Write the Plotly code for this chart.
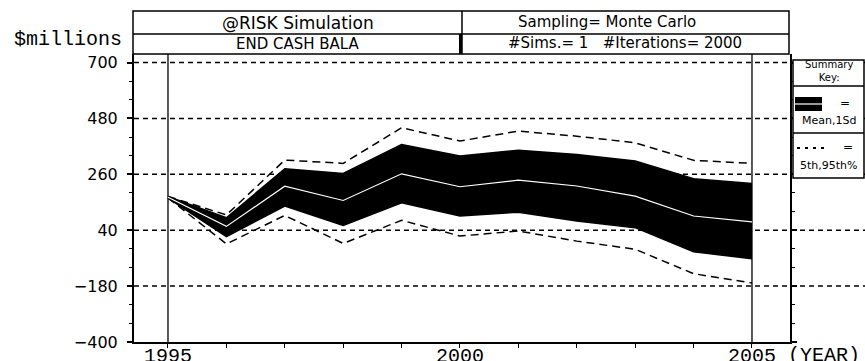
import plotly.graph_objects as go

# ---------------- data ----------------
years = [1995, 1996, 1997, 1998, 1999, 2000, 2001, 2002, 2003, 2004, 2005]
mean_vals = [170, 55, 213, 157, 262, 211, 237, 214, 174, 96, 73]
plus_1sd = [173, 89, 282, 263, 377, 332, 355, 338, 312, 243, 224]
minus_1sd = [166, 15, 135, 59, 148, 96, 111, 76, 50, -45, -72]
pct_95 = [173, 100, 316, 303, 443, 391, 430, 410, 384, 315, 303]
pct_5 = [167, -14, 98, -12, 79, 17, 37, -3, -35, -131, -168]

y_ticks = [-400, -180, 40, 260, 480, 700]
x_tick_labels = ["1995", "", "", "", "", "2000", "", "", "", "", "2005"]

# ---------------- layout helpers (pixel -> paper) ----------------
W, H = 865, 361
L, R, T, B = 134, 790, 54, 342


def px(x):
    return (x - L) / (R - L)


def py(y):
    return (B - y) / (B - T)


fig = go.Figure()

# 5th / 95th percentile dashed lines
fig.add_trace(go.Scatter(x=years, y=pct_95, mode="lines",
                         line=dict(color="black", width=1.5, dash="8px,5px"),
                         showlegend=False, hoverinfo="skip"))
fig.add_trace(go.Scatter(x=years, y=pct_5, mode="lines",
                         line=dict(color="black", width=1.5, dash="8px,5px"),
                         showlegend=False, hoverinfo="skip"))
# mean +/- 1 sd band
fig.add_trace(go.Scatter(x=years, y=minus_1sd, mode="lines",
                         line=dict(color="black", width=1.5),
                         showlegend=False, hoverinfo="skip"))
fig.add_trace(go.Scatter(x=years, y=plus_1sd, mode="lines", fill="tonexty",
                         fillcolor="black",
                         line=dict(color="black", width=1.5),
                         showlegend=False, hoverinfo="skip"))
# mean line
fig.add_trace(go.Scatter(x=years, y=mean_vals, mode="lines",
                         line=dict(color="white", width=1.2),
                         showlegend=False, hoverinfo="skip"))

shapes = []
# dotted horizontal grid lines (extend past right axis)
for v in y_ticks[1:]:
    shapes.append(dict(type="line", xref="paper", yref="y", x0=0, x1=px(865),
                       y0=v, y1=v, layer="below",
                       line=dict(color="black", width=1.5, dash="5px,4px")))
# solid vertical lines at first / last year
for v in (years[0], years[-1]):
    shapes.append(dict(type="line", xref="x", yref="paper", x0=v, x1=v,
                       y0=0, y1=1, layer="below",
                       line=dict(color="black", width=1.3)))

# header boxes
shapes.append(dict(type="rect", xref="paper", yref="paper",
                   x0=px(133), x1=px(789), y0=py(54), y1=py(11),
                   line=dict(color="black", width=1.5)))
shapes.append(dict(type="line", xref="paper", yref="paper",
                   x0=px(133), x1=px(789), y0=py(34), y1=py(34),
                   line=dict(color="black", width=1.5)))
shapes.append(dict(type="line", xref="paper", yref="paper",
                   x0=px(462), x1=px(462), y0=py(54), y1=py(11),
                   line=dict(color="black", width=1.5)))
shapes.append(dict(type="line", xref="paper", yref="paper",
                   x0=px(460.5), x1=px(460.5), y0=py(54), y1=py(34),
                   line=dict(color="black", width=3)))

# summary key box
shapes.append(dict(type="rect", xref="paper", yref="paper",
                   x0=px(793), x1=px(864), y0=py(178), y1=py(60),
                   fillcolor="white", line=dict(color="black", width=1.5)))
for yy in (86, 133):
    shapes.append(dict(type="line", xref="paper", yref="paper",
                       x0=px(793), x1=px(864), y0=py(yy), y1=py(yy),
                       line=dict(color="black", width=1.5)))
shapes.append(dict(type="rect", xref="paper", yref="paper",
                   x0=px(795), x1=px(822), y0=py(111), y1=py(97),
                   fillcolor="black", line=dict(color="black", width=0)))
shapes.append(dict(type="line", xref="paper", yref="paper",
                   x0=px(795), x1=px(822), y0=py(104), y1=py(104),
                   line=dict(color="white", width=1.2)))
shapes.append(dict(type="line", xref="paper", yref="paper",
                   x0=px(797), x1=px(829), y0=py(148), y1=py(148),
                   line=dict(color="black", width=2, dash="3px,5px")))

SANS = "DejaVu Sans"
MONO = "Liberation Mono"


def ann(text, x, y, size, family=SANS, xanchor="center", yanchor="middle"):
    return dict(text=text, xref="paper", yref="paper", x=px(x), y=py(y),
                xanchor=xanchor, yanchor=yanchor, showarrow=False,
                font=dict(family=family, size=size, color="black"))


annotations = [
    ann("$millions", 12, 40, 20, MONO, xanchor="left"),
    ann("@RISK Simulation", 298, 23, 17),
    ann("END CASH BALA", 298, 44, 15),
    ann("Sampling= Monte Carlo", 607, 22, 15),
    ann("#Sims.= 1\u00a0\u00a0\u00a0#Iterations= 2000", 625, 43, 15),
    ann("(YEAR)", 786, 342, 20, MONO, xanchor="left", yanchor="top"),
    dict(text="Summary<br>Key:", xref="paper", yref="paper",
         x=px(828.5), y=py(71), xanchor="center", yanchor="middle",
         showarrow=False, font=dict(family=SANS, size=10, color="black")),
    ann("=", 845, 103, 12),
    ann("Mean,1Sd", 828.5, 121, 11),
    ann("=", 848, 147, 12),
    ann("5th,95th%", 828.5, 165, 11),
]

fig.update_layout(
    width=W, height=H,
    margin=dict(l=L, r=W - R, t=T, b=H - B, pad=0, autoexpand=False),
    paper_bgcolor="white", plot_bgcolor="white",
    shapes=shapes, annotations=annotations,
    showlegend=False,
    xaxis=dict(range=[1994.418, 2005.651], tickmode="array",
               tickvals=years, ticktext=x_tick_labels, automargin=False,
               ticks="outside", ticklen=4, tickwidth=1.2, tickcolor="black",
               ticklabelstandoff=-10,
               tickfont=dict(family=MONO, size=20, color="black"),
               showline=True, linecolor="black", linewidth=2,
               showgrid=False, zeroline=False),
    yaxis=dict(range=[-400, 733.5], tickmode="array", tickvals=y_ticks,
               automargin=False,
               ticks="outside", ticklen=5, tickwidth=1.5, tickcolor="black",
               tickfont=dict(family=SANS, size=16, color="black"),
               ticklabelstandoff=6,
               minor=dict(tickmode="linear", tick0=-400, dtick=220 / 3,
                          ticks="outside", ticklen=3, tickwidth=1.2,
                          tickcolor="black"),
               showline=True, linecolor="black", linewidth=2, mirror="ticks",
               showgrid=False, zeroline=False),
)

fig.write_html("out.html",
               config={"displayModeBar": False},
               post_script="document.body.style.margin='0';"
                           "document.body.style.overflow='hidden';")
